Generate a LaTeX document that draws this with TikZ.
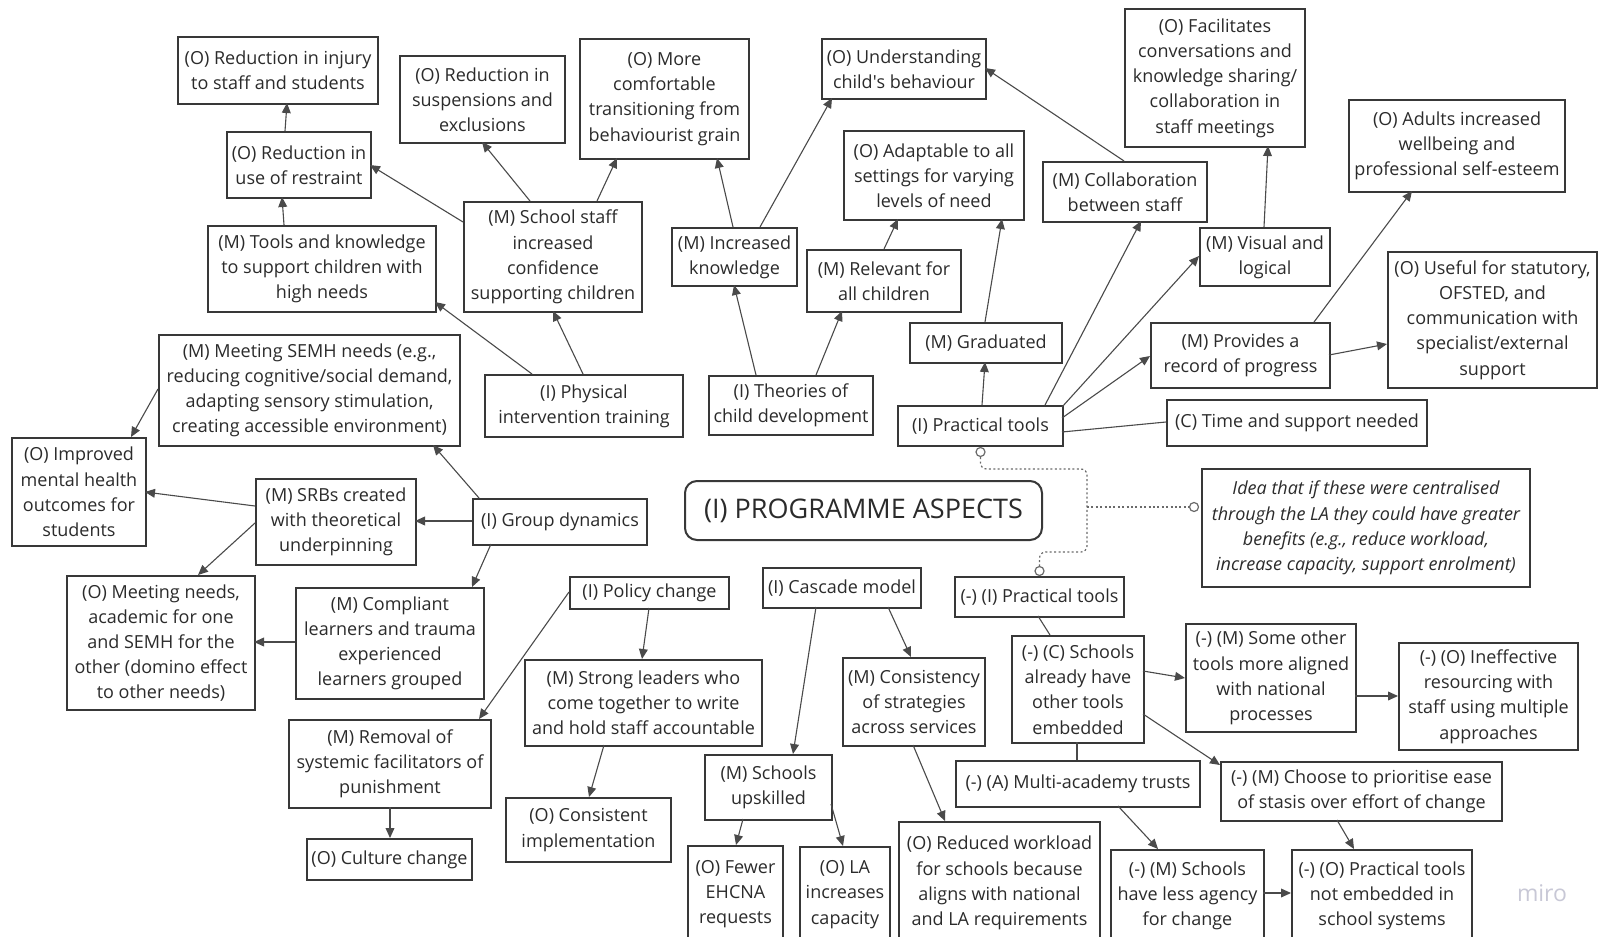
\documentclass[tikz,border=0pt]{standalone}
\usepackage{fontspec}
\setmainfont{Open Sans}
\usetikzlibrary{arrows.meta,calc}
\definecolor{boxline}{HTML}{383838}
\definecolor{linkcol}{HTML}{4A4A4A}
\definecolor{textcol}{HTML}{2B2B2B}
\definecolor{dotcol}{HTML}{6A6A6A}
\definecolor{logocol}{HTML}{C8C8D6}
% \card[style]{name}{x1}{y1}{x2}{y2}{text}: a box spanning the given corners
\newcommand\card[7][box]{%
  \pgfmathsetmacro\cardw{(#5-#3)*0.5}%
  \pgfmathsetmacro\cardh{(#6-#4)*0.5}%
  \node[#1, minimum width=\cardw pt, minimum height=\cardh pt]
    (#2) at ({(#3+#5)/2},{(#4+#6)/2}) {#7};}
\begin{document}
\begin{tikzpicture}[x=0.5pt,y=-0.5pt,
  box/.style={draw=boxline, line width=1pt, fill=white, inner sep=0pt,
    align=center, text=textcol, font=\fontsize{9}{12.6}\selectfont},
  hub/.style={box, rounded corners=6pt, font=\fontsize{13.5}{16}\selectfont},
  note/.style={box, font=\fontsize{9}{12.6}\selectfont\itshape},
  link/.style={draw=linkcol, line width=0.55pt},
  arr/.style={link, -{Triangle[length=5pt,width=4.4pt]}},
  dotline/.style={draw=dotcol, line width=0.6pt, dash pattern=on 1pt off 1.2pt, rounded corners=3pt},
  dotend/.style={circle, draw=dotcol, fill=white, line width=0.6pt, minimum size=4.5pt, inner sep=0pt}]

\fill[white] (0,0) rectangle (1598,936);
\useasboundingbox (0,0) rectangle (1598,936);

% ---- upper left: physical intervention branch
\card{oinjury}{178}{37}{378}{104}{(O) Reduction in injury\\to staff and students}
\card{orestraint}{227}{132}{371}{198}{(O) Reduction in\\use of restraint}
\card{mtools}{208}{226}{436}{312}{(M) Tools and knowledge\\to support children with\\high needs}
\card{osusp}{400}{56}{565}{143}{(O) Reduction in\\suspensions and\\exclusions}
\card{omore}{580}{39}{749}{159}{(O) More\\comfortable\\transitioning from\\behaviourist grain}
\card{mstaff}{464}{202}{642}{312}{(M) School staff\\increased\\confidence\\supporting children}
\card{iphys}{485}{375}{683}{437}{(I) Physical\\intervention training}

% ---- theories of child development
\card{mknow}{672}{228}{797}{286}{(M) Increased\\knowledge}
\card{ounder}{822}{39}{986}{99}{(O) Understanding\\child\textquotesingle s behaviour}
\card{oadapt}{844}{131}{1024}{220}{(O) Adaptable to all\\settings for varying\\levels of need}
\card{mrelev}{807}{250}{961}{312}{(M) Relevant for\\all children}
\card{itheory}{709}{376}{873}{435}{(I) Theories of\\child development}

% ---- practical tools
\card{mcollab}{1043}{162}{1207}{222}{(M) Collaboration\\between staff}
\card{ofacil}{1125}{9}{1305}{147}{(O) Facilitates\\conversations and\\knowledge sharing/\\collaboration in\\staff meetings}
\card{mvisual}{1200}{228}{1330}{286}{(M) Visual and\\logical}
\card{oadults}{1349}{100}{1565}{192}{(O) Adults increased\\wellbeing and\\professional self-esteem}
\card{ouseful}{1388}{252}{1597}{388}{(O) Useful for statutory,\\OFSTED, and\\communication with\\specialist/external\\support}
\card{mrecord}{1151}{323}{1330}{388}{(M) Provides a\\record of progress}
\card{ctime}{1167}{400}{1427}{446}{(C) Time and support needed}
\card{ipract}{898}{406}{1063}{446}{(I) Practical tools}
\card{mgrad}{910}{323}{1062}{363}{(M) Graduated}

% ---- centre
\card[hub]{prog}{685}{481}{1042}{540}{(I) PROGRAMME ASPECTS}
\card[note]{idea}{1202}{469}{1530}{587}{Idea that if these were centralised\\through the LA they could have greater\\benefits (e.g., reduce workload,\\increase capacity, support enrolment)}
\card{npract}{955}{577}{1124}{617}{(-) (I) Practical tools}

% ---- group dynamics
\card{msemh}{159}{335}{460}{446}{(M) Meeting SEMH needs (e.g.,\\reducing cognitive/social demand,\\adapting sensory stimulation,\\creating accessible environment)}
\card{oimproved}{12}{438}{146}{546}{(O) Improved\\mental health\\outcomes for\\students}
\card{msrb}{256}{479}{416}{565}{(M) SRBs created\\with theoretical\\underpinning}
\card{igroup}{473}{499}{647}{545}{(I) Group dynamics}
\card{omeet}{67}{576}{255}{710}{(O) Meeting needs,\\academic for one\\and SEMH for the\\other (domino effect\\to other needs)}
\card{mcompl}{296}{588}{484}{699}{(M) Compliant\\learners and trauma\\experienced\\learners grouped}

% ---- policy change
\card{ipolicy}{570}{577}{729}{609}{(I) Policy change}
\card{mstrong}{525}{660}{762}{746}{(M) Strong leaders who\\come together to write\\and hold staff accountable}
\card{mremoval}{289}{720}{491}{808}{(M) Removal of\\systemic facilitators of\\punishment}
\card{oculture}{307}{839}{472}{880}{(O) Culture change}
\card{oconsist}{506}{798}{671}{862}{(O) Consistent\\implementation}

% ---- cascade model
\card{icascade}{763}{568}{921}{608}{(I) Cascade model}
\card{mconsist}{843}{658}{985}{746}{(M) Consistency\\of strategies\\across services}
\card{mupskill}{705}{755}{832}{820}{(M) Schools\\upskilled}
\card{ofewer}{688}{846}{783}{942}{(O) Fewer\\EHCNA\\requests}
\card{ola}{800}{847}{890}{942}{(O) LA\\increases\\capacity}
\card{oreduced}{899}{822}{1100}{944}{(O) Reduced workload\\for schools because\\aligns with national\\and LA requirements}

% ---- negative practical tools
\card{nschools}{1012}{636}{1144}{743}{(-) (C) Schools\\already have\\other tools\\embedded}
\card{nmat}{956}{761}{1200}{807}{(-) (A) Multi-academy trusts}
\card{nagency}{1111}{850}{1264}{942}{(-) (M) Schools\\have less agency\\for change}
\card{nsome}{1186}{624}{1356}{732}{(-) (M) Some other\\tools more aligned\\with national\\processes}
\card{nineff}{1399}{643}{1578}{750}{(-) (O) Ineffective\\resourcing with\\staff using multiple\\approaches}
\card{nchoose}{1221}{762}{1502}{821}{(-) (M) Choose to prioritise ease\\of stasis over effort of change}
\card{nopract}{1292}{850}{1472}{942}{(-) (O) Practical tools\\not embedded in\\school systems}

% ---- connectors
\draw[arr] ([shift={(59,0)}]orestraint.north west) -- ([shift={(110,67)}]oinjury.north west);
\draw[arr] ([shift={(77,0)}]mtools.north west) -- ([shift={(56,66)}]orestraint.north west);
\draw[arr] ([shift={(0,21)}]mstaff.north west) -- ([shift={(144,34)}]orestraint.north west);
\draw[arr] ([shift={(67,0)}]mstaff.north west) -- ([shift={(83,87)}]osusp.north west);
\draw[arr] ([shift={(134,0)}]mstaff.north west) -- ([shift={(38,120)}]omore.north west);
\draw[arr] ([shift={(48,0)}]iphys.north west) -- ([shift={(228,77)}]mtools.north west);
\draw[arr] ([shift={(99,0)}]iphys.north west) -- ([shift={(90,110)}]mstaff.north west);
\draw[arr] ([shift={(48,0)}]itheory.north west) -- ([shift={(63,58)}]mknow.north west);
\draw[arr] ([shift={(108,0)}]itheory.north west) -- ([shift={(36,62)}]mrelev.north west);
\draw[arr] ([shift={(62,0)}]mknow.north west) -- ([shift={(138,120)}]omore.north west);
\draw[arr] ([shift={(89,0)}]mknow.north west) -- ([shift={(11,60)}]ounder.north west);
\draw[arr] ([shift={(78,0)}]mrelev.north west) -- ([shift={(55,89)}]oadapt.north west);
\draw[arr] ([shift={(76,0)}]mgrad.north west) -- ([shift={(159,89)}]oadapt.north west);
\draw[arr] ([shift={(82,0)}]mcollab.north west) -- ([shift={(164,30)}]ounder.north west);
\draw[arr] ([shift={(85,0)}]ipract.north west) -- ([shift={(76,40)}]mgrad.north west);
\draw[arr] ([shift={(148,0)}]ipract.north west) -- ([shift={(99,60)}]mcollab.north west);
\draw[arr] ([shift={(165,2)}]ipract.north west) -- ([shift={(0,29)}]mvisual.north west);
\draw[arr] ([shift={(165,13)}]ipract.north west) -- ([shift={(0,34)}]mrecord.north west);
\draw[link] ([shift={(165,27)}]ipract.north west) -- ([shift={(0,23)}]ctime.north west);
\draw[arr] ([shift={(65,0)}]mvisual.north west) -- ([shift={(144,138)}]ofacil.north west);
\draw[arr] ([shift={(164,0)}]mrecord.north west) -- ([shift={(64,92)}]oadults.north west);
\draw[arr] ([shift={(179,33)}]mrecord.north west) -- ([shift={(0,93)}]ouseful.north west);

\draw[arr] ([shift={(7,0)}]igroup.north west) -- ([shift={(275,111)}]msemh.north west);
\draw[arr] ([shift={(0,23)}]igroup.north west) -- ([shift={(160,43)}]msrb.north west);
\draw[arr] ([shift={(19,46)}]igroup.north west) -- ([shift={(177,0)}]mcompl.north west);
\draw[arr] ([shift={(0,55)}]msemh.north west) -- ([shift={(120,0)}]oimproved.north west);
\draw[arr] ([shift={(0,28)}]msrb.north west) -- ([shift={(134,55)}]oimproved.north west);
\draw[arr] ([shift={(0,45)}]msrb.north west) -- ([shift={(132,0)}]omeet.north west);
\draw[arr] ([shift={(0,55)}]mcompl.north west) -- ([shift={(188,67)}]omeet.north west);

\draw[arr] ([shift={(0,16)}]ipolicy.north west) -- ([shift={(191,0)}]mremoval.north west);
\draw[arr] ([shift={(80,32)}]ipolicy.north west) -- ([shift={(118,0)}]mstrong.north west);
\draw[arr] ([shift={(80,86)}]mstrong.north west) -- ([shift={(84,0)}]oconsist.north west);
\draw[arr] ([shift={(102,88)}]mremoval.north west) -- ([shift={(84,0)}]oculture.north west);

\draw[arr] ([shift={(54,40)}]icascade.north west) -- ([shift={(89,0)}]mupskill.north west);
\draw[arr] ([shift={(126,40)}]icascade.north west) -- ([shift={(69,0)}]mconsist.north west);
\draw[arr] ([shift={(39,65)}]mupskill.north west) -- ([shift={(49,0)}]ofewer.north west);
\draw[arr] ([shift={(127,50)}]mupskill.north west) -- ([shift={(44,0)}]ola.north west);
\draw[arr] ([shift={(71,88)}]mconsist.north west) -- ([shift={(47,0)}]oreduced.north west);

\draw[link] ([shift={(84,40)}]npract.north west) -- ([shift={(39,0)}]nschools.north west);
\draw[link] ([shift={(66,107)}]nschools.north west) -- ([shift={(122,0)}]nmat.north west);
\draw[arr] ([shift={(132,36)}]nschools.north west) -- ([shift={(0,55)}]nsome.north west);
\draw[arr] ([shift={(132,79)}]nschools.north west) -- ([shift={(0,4)}]nchoose.north west);
\draw[arr] ([shift={(163,46)}]nmat.north west) -- ([shift={(48,0)}]nagency.north west);
\draw[arr] ([shift={(170,73)}]nsome.north west) -- ([shift={(0,54)}]nineff.north west);
\draw[arr] ([shift={(117,59)}]nchoose.north west) -- ([shift={(63,0)}]nopract.north west);
\draw[arr] ([shift={(153,44)}]nagency.north west) -- ([shift={(0,44)}]nopract.north west);

% ---- dotted note link between the two practical-tools cards
\node[dotend] (dA) at ([shift={(0,5)}]ipract.south) {};
\node[dotend] (dB) at ([shift={(0,-5)}]npract.north) {};
\node[dotend] (dC) at ([shift={(-7,-21)}]idea.west) {};
\coordinate (trunkTop) at (1087,469);
\coordinate (trunkMid) at (1087,507);
\coordinate (trunkBot) at (1087,552);
\draw[dotline] (dA.south) |- (trunkTop) -- (trunkBot) -| (dB.north);
\draw[dotline] (trunkMid) -- (dC.west);

% ---- logo
\node[text=logocol, font=\fontsize{11.5}{12}\selectfont, inner sep=0pt] (logo) at (1542,893) {miro};
\end{tikzpicture}
\end{document}
